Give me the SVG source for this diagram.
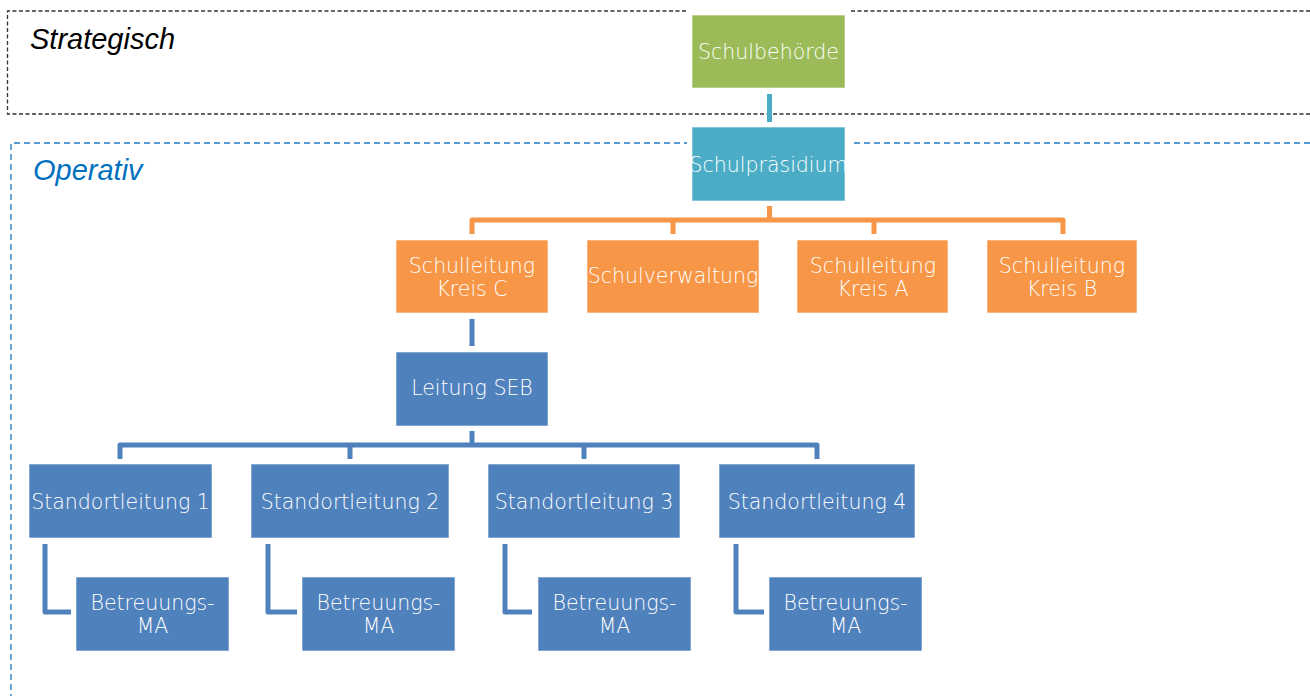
<svg xmlns="http://www.w3.org/2000/svg" width="1310" height="696" viewBox="0 0 1310 696">
<style>
.lbl{font-family:"DejaVu Sans","Liberation Sans",sans-serif;font-weight:200;font-size:20.5px;fill:#ffffff;text-anchor:middle}
.box{stroke:#ffffff;stroke-opacity:0.6;stroke-width:1}
.or{fill:#F79646}.bl{fill:#4F81BD}.gr{fill:#9BBB59}.tl{fill:#4BACC6}
.con{fill:none;stroke-width:5;stroke-linejoin:round}
</style>
<rect width="1310" height="696" fill="#ffffff"/>
<g id="zones">
<path d="M1310,11 H7.5 V114 H1310" fill="none" stroke="#333333" stroke-width="1.3" stroke-dasharray="4,2.5"/>
<path d="M1310,143 H11 V700" fill="none" stroke="#1E78C8" stroke-width="1.3" stroke-dasharray="6,4"/>
<text x="30" y="49" font-family="Liberation Sans,Arial,sans-serif" font-style="italic" font-size="29" fill="#000000">Strategisch</text>
<text x="33" y="180" font-family="Liberation Sans,Arial,sans-serif" font-style="italic" font-size="29" fill="#0070C0">Operativ</text>
</g>
<g id="connectors">
<line x1="769.5" y1="94" x2="769.5" y2="122" class="con" stroke="#4BACC6"/>
<path class="con" stroke="#F79646" d="M769.5,206 V220 M472,234 V220 H1063 V234 M673,220 V234 M874,220 V234"/>
<line x1="472" y1="319" x2="472" y2="346" class="con" stroke="#4F81BD"/>
<path class="con" stroke="#4F81BD" d="M472,431 V445 M120,459 V445 H817 V459 M350,445 V459 M584,445 V459"/>
<path class="con" stroke="#4F81BD" d="M45,544 V612 H71 M268,544 V612 H297 M505,544 V612 H532 M736,544 V612 H764"/>
</g>
<g id="schulbehoerde">
<rect x="687" y="10" width="163" height="83" fill="#ffffff"/>
<rect x="692" y="15" width="153" height="73" class="box gr"/>
<text x="768.5" y="59" class="lbl">Schulbehörde</text>
</g>
<g id="schulpraesidium">
<rect x="687" y="122" width="163" height="84" fill="#ffffff"/>
<rect x="692" y="127" width="153" height="74" class="box tl"/>
<text x="768.5" y="171.5" class="lbl">Schulpräsidium</text>
</g>
<g id="schulleitung-c">
<rect x="396" y="240" width="152" height="73" class="box or"/>
<text x="472" y="272.5" class="lbl">Schulleitung</text>
<text x="472" y="296" class="lbl">Kreis C</text>
</g>
<g id="schulverwaltung">
<rect x="587" y="240" width="172" height="73" class="box or"/>
<text x="673" y="283" class="lbl">Schulverwaltung</text>
</g>
<g id="schulleitung-a">
<rect x="797" y="240" width="151" height="73" class="box or"/>
<text x="873" y="272.5" class="lbl">Schulleitung</text>
<text x="873" y="296" class="lbl">Kreis A</text>
</g>
<g id="schulleitung-b">
<rect x="987" y="240" width="150" height="73" class="box or"/>
<text x="1062" y="272.5" class="lbl">Schulleitung</text>
<text x="1062" y="296" class="lbl">Kreis B</text>
</g>
<g id="leitung-seb">
<rect x="396" y="352" width="152" height="74" class="box bl"/>
<text x="472" y="395" class="lbl">Leitung SEB</text>
</g>
<g id="standort-1">
<rect x="29" y="464" width="183" height="74" class="box bl"/>
<text x="120.5" y="509" class="lbl">Standortleitung 1</text>
</g>
<g id="standort-2">
<rect x="251" y="464" width="198" height="74" class="box bl"/>
<text x="350" y="509" class="lbl">Standortleitung 2</text>
</g>
<g id="standort-3">
<rect x="488" y="464" width="192" height="74" class="box bl"/>
<text x="584" y="509" class="lbl">Standortleitung 3</text>
</g>
<g id="standort-4">
<rect x="719" y="464" width="196" height="74" class="box bl"/>
<text x="817" y="509" class="lbl">Standortleitung 4</text>
</g>
<g id="betreuung-1">
<rect x="76" y="577" width="153" height="74" class="box bl"/>
<text x="152.5" y="610" class="lbl">Betreuungs-</text>
<text x="152.5" y="633" class="lbl">MA</text>
</g>
<g id="betreuung-2">
<rect x="302" y="577" width="153" height="74" class="box bl"/>
<text x="378.5" y="610" class="lbl">Betreuungs-</text>
<text x="378.5" y="633" class="lbl">MA</text>
</g>
<g id="betreuung-3">
<rect x="538" y="577" width="153" height="74" class="box bl"/>
<text x="614.5" y="610" class="lbl">Betreuungs-</text>
<text x="614.5" y="633" class="lbl">MA</text>
</g>
<g id="betreuung-4">
<rect x="769" y="577" width="153" height="74" class="box bl"/>
<text x="845.5" y="610" class="lbl">Betreuungs-</text>
<text x="845.5" y="633" class="lbl">MA</text>
</g>
</svg>
